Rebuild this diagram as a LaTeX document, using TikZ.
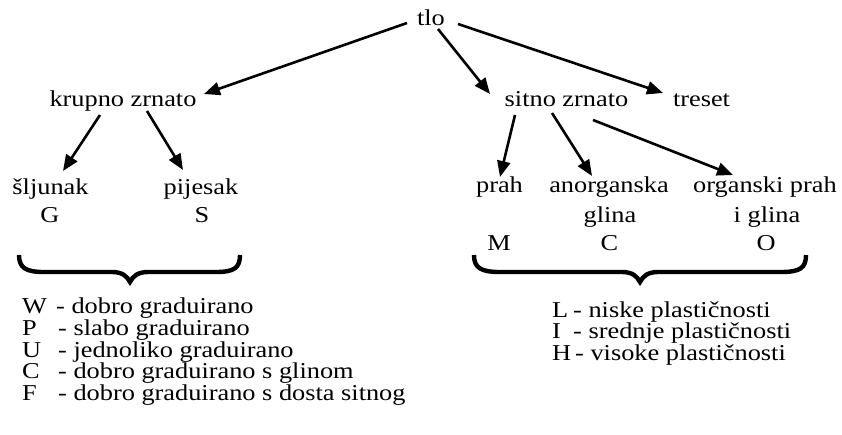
\documentclass[tikz,border=0pt]{standalone}
\usepackage{fontspec}
\setmainfont{Liberation Serif}[FakeStretch=1.16]
\usetikzlibrary{arrows.meta}
\begin{document}
\begin{tikzpicture}[x=1pt,y=-1pt,
  lbl/.style={inner sep=0pt, anchor=base, font=\fontsize{22.7}{22}\selectfont},
  li/.style={lbl, anchor=base west},
  arr/.style={line width=2.6pt, -{Triangle[length=16pt,width=13pt]}},
  brace/.style={line width=4.4pt, line join=miter, miter limit=20, line cap=butt}]
\useasboundingbox (0,0) rectangle (842,435);
% level 0
\node[lbl] (tlo) at (431,26) {tlo};
% level 1
\node[lbl] (krupno) at (123,107) {krupno zrnato};
\node[lbl] (sitno) at (566.5,107) {sitno zrnato};
\node[lbl] (treset) at (701.5,107) {treset};
% level 2 left
\node[lbl] (sljunak) at (50.5,195) {šljunak};
\node[lbl] (pijesak) at (201,195) {pijesak};
\node[lbl] (G) at (50,223) {G};
\node[lbl] (S) at (202,223) {S};
% level 2 right
\node[lbl] (prah) at (499.5,193) {prah};
\node[lbl] (anorg) at (609,193) {anorganska};
\node[lbl] (anorg2) at (610,223) {glina};
\node[lbl] (organ) at (765,193) {organski prah};
\node[lbl] (organ2) at (767,223) {i glina};
\node[lbl] (M) at (499,251) {M};
\node[lbl] (C) at (609.5,251) {C};
\node[lbl] (O) at (766,251) {O};
% arrows
\draw[arr] ([shift={(-24,-3)}]tlo.base) -- ([shift={(81,-13)}]krupno.base);
\draw[arr] ([shift={(7,3)}]tlo.base) -- ([shift={(-76.5,-13)}]sitno.base);
\draw[arr] ([shift={(27,-2)}]tlo.base) -- ([shift={(-38.5,-14)}]treset.base);
\draw[arr] ([shift={(-23,8)}]krupno.base) -- ([shift={(12.5,-24)}]sljunak.base);
\draw[arr] ([shift={(24,4)}]krupno.base) -- ([shift={(-18,-25)}]pijesak.base);
\draw[arr] ([shift={(-51.5,8)}]sitno.base) -- ([shift={(0.5,-16)}]prah.base);
\draw[arr] ([shift={(-14.5,6)}]sitno.base) -- ([shift={(-17,-17)}]anorg.base);
\draw[arr] ([shift={(26.5,13)}]sitno.base) -- ([shift={(-32,-18)}]organ.base);
% braces
\draw[brace] (19,255) .. controls (19,268) and (26,272) .. (44,272)
  -- (112,272) .. controls (122,272) and (127,276) .. (130,282)
  .. controls (133,276) and (138,272) .. (148,272)
  -- (216,272) .. controls (234,272) and (240,268) .. (240,255);
\draw[brace] (474,255) .. controls (474,268) and (481,272) .. (500,272)
  -- (622,272) .. controls (632,272) and (637,276) .. (640,282)
  .. controls (643,276) and (648,272) .. (658,272)
  -- (781,272) .. controls (800,272) and (806,268) .. (806,255);
% left list
\node[li] (w) at (22,313) {\makebox[34pt][l]{W}- dobro graduirano};
\node[li] (p) at (22,335) {\makebox[36pt][l]{P}- slabo graduirano};
\node[li] (u) at (22,357) {\makebox[36pt][l]{U}- jednoliko graduirano};
\node[li] (c) at (22,378.5) {\makebox[36pt][l]{C}- dobro graduirano s glinom};
\node[li] (f) at (22,400.5) {\makebox[36pt][l]{F}- dobro graduirano s dosta sitnog};
% right list
\node[li] (l) at (552,317) {\makebox[21pt][l]{L}- niske plastičnosti};
\node[li] (i) at (552,338.5) {\makebox[21pt][l]{I}- srednje plastičnosti};
\node[li] (h) at (552,360) {\makebox[23pt][l]{H}- visoke plastičnosti};
\end{tikzpicture}
\end{document}
